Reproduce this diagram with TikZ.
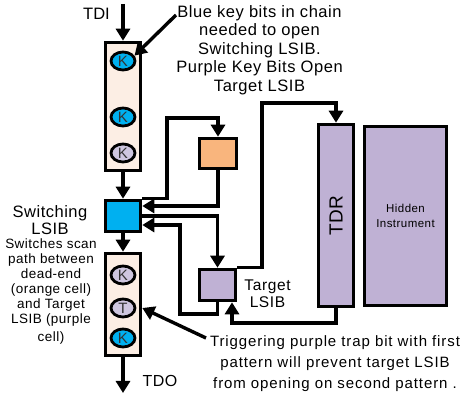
\documentclass[tikz,border=0pt]{standalone}
\usepackage{fontspec}
\setmainfont{Liberation Sans}
\usetikzlibrary{arrows.meta,shapes.geometric}
\definecolor{peach}{HTML}{FCEEE4}
\definecolor{keyblue}{HTML}{00B0F0}
\definecolor{lav}{HTML}{BFB1D4}
\definecolor{lightlav}{HTML}{CEC6DF}
\definecolor{orangecell}{HTML}{F9B57D}
\newcommand{\fsz}[3]{\fontsize{#1}{#2}\selectfont\addfontfeatures{LetterSpace=#3}}
\begin{document}
\begin{tikzpicture}[x=1pt,y=-1pt,
  box/.style={draw, line width=3.6pt, inner sep=0pt},
  bit/.style={draw, ellipse, line width=2.8pt, minimum width=24pt, minimum height=18pt, inner sep=0pt, text=black!80, font=\fsz{15}{15}{0}},
  conn/.style={line width=3.4pt, -{Triangle[length=12pt,width=14pt]}},
  lbl/.style={align=center, inner sep=0pt}]
\useasboundingbox (0,0) rectangle (467,395);
% scan chain
\node[box, fill=peach, minimum width=35pt, minimum height=128pt] (chain1) at (123,106.5) {};
\node[bit, fill=keyblue] (k1) at (123,61) {K};
\node[bit, fill=keyblue] (k2) at (123,117) {K};
\node[bit, fill=lightlav] (k3) at (123,153) {K};
\node[box, fill=keyblue, minimum width=35pt, minimum height=31pt] (sw) at (123,216) {};
\node[box, fill=peach, minimum width=35pt, minimum height=102pt] (chain2) at (123,304.5) {};
\node[bit, fill=lightlav] (k4) at (123,275) {K};
\node[bit, fill=lightlav] (t1) at (123,308) {T};
\node[bit, fill=keyblue] (k5) at (123,338) {K};
\node[box, fill=orangecell, minimum width=37pt, minimum height=30pt] (dead) at (218,153.5) {};
\node[box, fill=lav, minimum width=36pt, minimum height=31pt] (tgt) at (217.5,285) {};
\node[box, fill=lav, minimum width=35pt, minimum height=182pt, font=\fsz{19}{19}{2}] (tdr) at (336,215.5) {\rotatebox{90}{TDR}};
\node[box, fill=lav, minimum width=82pt, minimum height=179pt, align=center, font=\fsz{11.5}{15}{4}] (hid) at (405.5,216) {Hidden\\Instrument};
% texts
\node[lbl, font=\fsz{16.5}{16.5}{0}] (tdil) at (96.5,14) {TDI};
\node[lbl, font=\fsz{16}{16}{3}] (tdol) at (160,381) {TDO};
\node[lbl, font=\fsz{16.5}{18.5}{3.3}] (note1) at (259.5,50) {Blue key bits in chain\\needed to open\\Switching LSIB.\\Purple Key Bits Open\\Target LSIB};
\node[lbl, font=\fsz{16.5}{17}{3}] (swl) at (50,220) {Switching\\LSIB};
\node[lbl, font=\fsz{13.5}{15}{3.5}] (swd) at (51,291.5) {Switches scan\\path between\\dead-end\\(orange cell)\\and Target\\LSIB (purple\\[3pt]cell)};
\node[lbl, font=\fsz{15.5}{17}{4}] (tl) at (267.5,293.5) {Target\\LSIB};
\node[lbl, font=\fsz{15}{21}{6}] (note2) at (335,364) {Triggering purple trap bit with first\\pattern will prevent target LSIB\\from opening on second pattern .};
% coordinates
\coordinate (tdi) at (123,4);
\coordinate (tdo) at (123,393);
\coordinate (b1) at (167,118);
\coordinate (r1) at (180,314);
\coordinate (r2) at (262,103);
\coordinate (r3) at (232,323);
\coordinate (a1) at (176,15);
\coordinate (a2) at (206,338);
% connectors
\draw[conn] (tdi) -- (chain1);
\draw[conn] (chain1) -- (sw);
\draw[conn] (sw) -- (chain2);
\draw[conn] (chain2) -- (tdo);
\draw[conn] (sw.north east) -| (b1) -| (dead.north);
\draw[conn] (dead.south) |- ([yshift=10pt]sw.east);
\draw[conn] (sw.east) -| (tgt.north);
\draw[conn] (tgt.south) |- (r1) |- ([yshift=-9pt]sw.east);
\draw[conn] (tgt.north east) -| (r2) -| (tdr.north);
\draw[conn] (tdr.south) |- (r3) -- (r3 |- tgt.south);
\draw[conn] (a1) -- (k1.25);
\draw[conn] (a2) -- (chain2.east |- t1);
\end{tikzpicture}
\end{document}
